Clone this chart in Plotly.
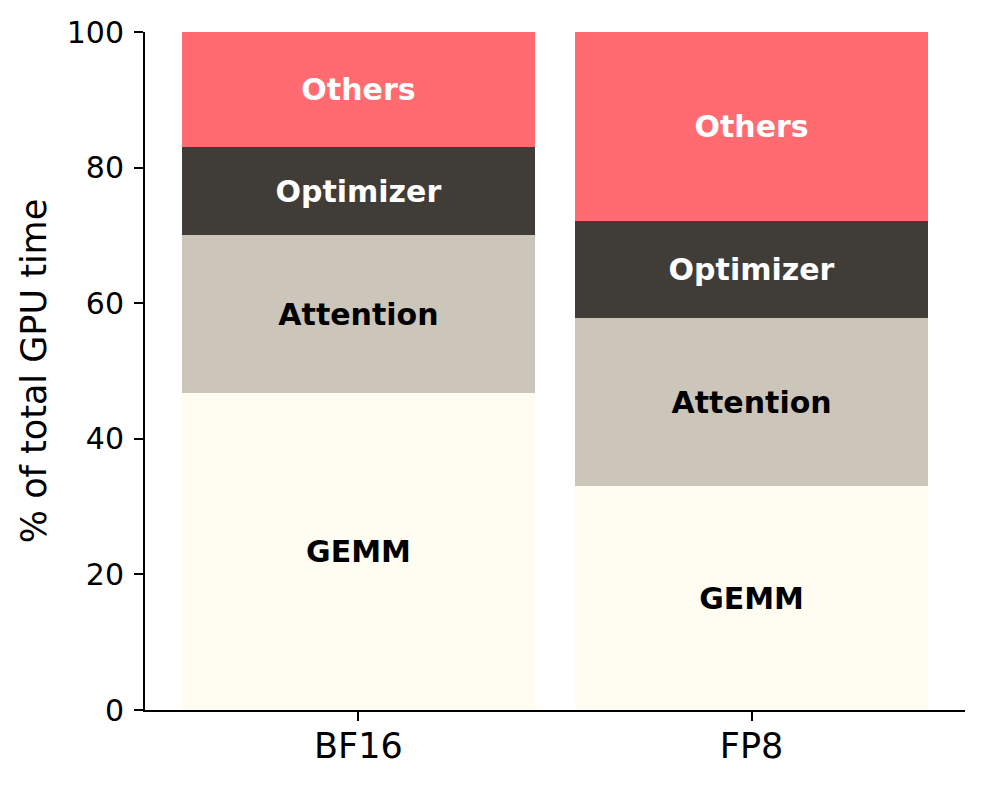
import plotly.graph_objects as go

categories = ["BF16", "FP8"]
segments = ["GEMM", "Attention", "Optimizer", "Others"]
gemm = [46.8, 33.0]
attention = [23.2, 24.8]
optimizer = [13.0, 14.3]
others = [17.0, 27.9]
colors = ["#FFFCF2", "#CCC5B9", "#403D39", "#FF6B70"]
text_colors = ["black", "black", "white", "white"]

values = [gemm, attention, optimizer, others]

FONT = "DejaVu Sans"
fig = go.Figure()
for name, vals, col, tcol in zip(segments, values, colors, text_colors):
    fig.add_trace(go.Bar(
        x=categories, y=vals, name=name,
        marker=dict(color=col, line=dict(width=0)),
        text=[name] * len(vals), textposition="inside",
        insidetextanchor="middle", constraintext="none",
        textfont=dict(family=FONT, size=30, color=tcol, weight="bold"),
        textangle=0, hoverinfo="skip",
    ))

fig.update_layout(
    barmode="stack", bargap=0.1, showlegend=False,
    width=986, height=785,
    margin=dict(l=145, r=21, t=32, b=75),
    plot_bgcolor="white", paper_bgcolor="white",
    font=dict(family=FONT, color="black"),
)
fig.update_xaxes(
    range=[-0.543, 1.543], showline=True, linewidth=2, linecolor="black",
    ticks="outside", ticklen=9, tickwidth=2, tickcolor="black",
    tickfont=dict(size=35, family=FONT), showgrid=False, zeroline=False,
    ticklabelstandoff=-5,
)
fig.update_yaxes(
    range=[0, 100], tickvals=[0, 20, 40, 60, 80, 100],
    showline=True, linewidth=2, linecolor="black",
    ticks="outside", ticklen=9, tickwidth=2, tickcolor="black",
    tickfont=dict(size=30, family=FONT), showgrid=False, zeroline=False,
    ticklabelstandoff=4,
    title=dict(text="% of total GPU time", font=dict(size=35, family=FONT), standoff=9),
)
fig.write_html("out.html")
